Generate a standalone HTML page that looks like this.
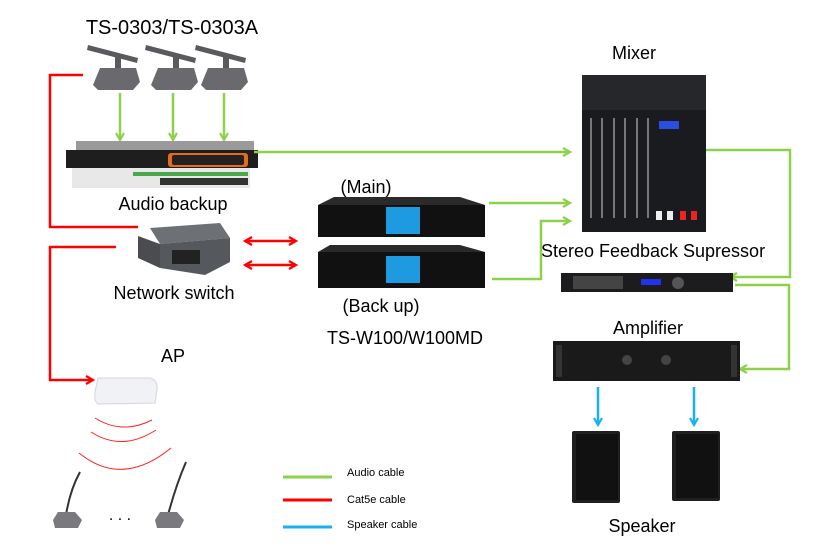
<!DOCTYPE html>
<html><head><meta charset="utf-8"><style>
html,body{margin:0;padding:0;background:#fff}
svg{display:block}
text{font-family:"Liberation Sans",Arial,sans-serif;fill:#000}
</style></head><body>
<svg width="827" height="544" viewBox="0 0 827 544" xmlns="http://www.w3.org/2000/svg">
<defs>
<marker id="ag" markerWidth="10" markerHeight="10" refX="8" refY="5" orient="auto" markerUnits="userSpaceOnUse"><path d="M1,1 L8,5 L1,9" fill="none" stroke="#8dd14a" stroke-width="2.2"/></marker>
<marker id="ar" markerWidth="10" markerHeight="10" refX="8" refY="5" orient="auto-start-reverse" markerUnits="userSpaceOnUse"><path d="M1,1 L8,5 L1,9" fill="none" stroke="#f00" stroke-width="2.2"/></marker>
<marker id="ab" markerWidth="10" markerHeight="10" refX="8" refY="5" orient="auto" markerUnits="userSpaceOnUse"><path d="M1,1 L8,5 L1,9" fill="none" stroke="#1ab0ef" stroke-width="2.2"/></marker>
</defs>

<text x="172" y="34" font-size="20" text-anchor="middle">TS-0303/TS-0303A</text>
<text x="173" y="210" font-size="18" text-anchor="middle">Audio backup</text>
<text x="174" y="299" font-size="18" text-anchor="middle">Network switch</text>
<text x="366" y="193" font-size="18" text-anchor="middle">(Main)</text>
<text x="381" y="312" font-size="18" text-anchor="middle">(Back up)</text>
<text x="405" y="344" font-size="18" text-anchor="middle">TS-W100/W100MD</text>
<text x="634" y="59" font-size="18" text-anchor="middle">Mixer</text>
<text x="653" y="257" font-size="18" text-anchor="middle">Stereo Feedback Supressor</text>
<text x="648" y="334" font-size="18" text-anchor="middle">Amplifier</text>
<text x="642" y="532" font-size="18" text-anchor="middle">Speaker</text>
<text x="173" y="362" font-size="18" text-anchor="middle">AP</text>
<text x="347" y="476" font-size="11">Audio cable</text>
<text x="347" y="503" font-size="11">Cat5e cable</text>
<text x="347" y="528" font-size="11">Speaker cable</text>
<line x1="283" y1="477" x2="332" y2="477" stroke="#8dd14a" stroke-width="3"/>
<line x1="283" y1="500" x2="332" y2="500" stroke="#f00" stroke-width="3"/>
<line x1="283" y1="527" x2="332" y2="527" stroke="#1ab0ef" stroke-width="3"/>

<g fill="#5a5a5e">
<g><path d="M88,45 L138,58 L137,63 L87,50Z"/><rect x="115" y="55" width="6" height="14"/><path d="M93,85 L100,68 L136,68 L140,82 L133,90 L98,90Z" fill="#6a6a6e"/></g>
<g transform="translate(58,0)"><path d="M88,45 L138,58 L137,63 L87,50Z"/><rect x="115" y="55" width="6" height="14"/><path d="M93,85 L100,68 L136,68 L140,82 L133,90 L98,90Z" fill="#6a6a6e"/></g>
<g transform="translate(108,0)"><path d="M88,45 L138,58 L137,63 L87,50Z"/><rect x="115" y="55" width="6" height="14"/><path d="M93,85 L100,68 L136,68 L140,82 L133,90 L98,90Z" fill="#6a6a6e"/></g>
</g>
<g stroke="#8dd14a" stroke-width="2.5" fill="none">
<line x1="120" y1="93" x2="120" y2="140" marker-end="url(#ag)"/>
<line x1="173" y1="93" x2="173" y2="140" marker-end="url(#ag)"/>
<line x1="224" y1="93" x2="224" y2="140" marker-end="url(#ag)"/>
</g>

<rect x="76" y="141" width="178" height="10" fill="#9a9a9a"/>
<rect x="66" y="150" width="192" height="18" fill="#1e1e1e"/>
<rect x="168" y="153" width="80" height="14" rx="3" fill="#e56a1a"/>
<rect x="172" y="155" width="72" height="10" rx="2" fill="#222"/>
<rect x="72" y="168" width="178" height="20" fill="#e8e8e8"/>
<g fill="#333"><rect x="160" y="178" width="88" height="7"/></g>
<g fill="#4aa84a"><rect x="133" y="172" width="115" height="4"/></g>

<g fill="none" stroke-width="2.5">
<line x1="254" y1="152" x2="570" y2="152" stroke="#8dd14a" marker-end="url(#ag)"/>
<polyline points="83,75 50,75 50,227 138,227" stroke="#f00"/>
<polyline points="116,247 50,247 50,380 93,380" stroke="#f00" marker-end="url(#ar)"/>
<line x1="245" y1="241" x2="296" y2="241" stroke="#f00" marker-end="url(#ar)" marker-start="url(#ar)"/>
<line x1="245" y1="265" x2="296" y2="265" stroke="#f00" marker-end="url(#ar)" marker-start="url(#ar)"/>
<line x1="489" y1="203" x2="570" y2="203" stroke="#8dd14a" marker-end="url(#ag)"/>
<polyline points="492,279 541,279 541,221 570,221" stroke="#8dd14a" marker-end="url(#ag)"/>
<polyline points="703,150 790,150 790,277 730,277" stroke="#8dd14a" marker-end="url(#ag)"/>
<polyline points="735,285 789,285 789,369 740,369" stroke="#8dd14a" marker-end="url(#ag)"/>
<line x1="598" y1="387" x2="598" y2="425" stroke="#1ab0ef" marker-end="url(#ab)"/>
<line x1="694" y1="387" x2="694" y2="425" stroke="#1ab0ef" marker-end="url(#ab)"/>
</g>

<path d="M150,228 L220,223 L230,238 L160,244Z" fill="#6d7075"/>
<path d="M138,236 L160,244 L160,268 L138,258Z" fill="#4a4c50"/>
<path d="M160,244 L230,238 L230,262 L205,275 L160,268Z" fill="#55585d"/>
<rect x="172" y="250" width="28" height="14" fill="#222"/>

<g>
<path d="M334,197 L460,197 L485,205 L318,205Z" fill="#2a2a2a"/>
<rect x="318" y="205" width="167" height="32" fill="#111"/>
<rect x="386" y="207" width="34" height="27" fill="#1e9be0"/>
<path d="M330,245 L460,245 L485,252 L318,252Z" fill="#2a2a2a"/>
<rect x="318" y="252" width="167" height="36" fill="#111"/>
<rect x="386" y="256" width="34" height="27" fill="#1e9be0"/>
</g>

<rect x="582" y="75" width="124" height="157" fill="#1a1b1e"/>
<rect x="582" y="75" width="124" height="35" fill="#26272b"/>
<rect x="659" y="121" width="20" height="8" fill="#2a4ee0"/>
<g fill="#777">
<rect x="590" y="118" width="2" height="100"/><rect x="601" y="118" width="2" height="100"/><rect x="613" y="118" width="2" height="100"/><rect x="624" y="118" width="2" height="100"/><rect x="636" y="118" width="2" height="100"/><rect x="647" y="118" width="2" height="100"/>
</g>
<rect x="656" y="211" width="6" height="9" fill="#eee"/><rect x="667" y="211" width="6" height="9" fill="#eee"/>
<rect x="680" y="211" width="6" height="9" fill="#e22"/><rect x="691" y="211" width="6" height="9" fill="#e22"/>

<rect x="561" y="273" width="172" height="19" fill="#1c1c1e"/>
<rect x="573" y="276" width="50" height="13" fill="#444"/>
<rect x="641" y="279" width="20" height="6" fill="#2233ee"/>
<circle cx="678" cy="283" r="6" fill="#555"/>

<rect x="553" y="341" width="187" height="40" fill="#1a1a1b"/>
<rect x="556" y="345" width="6" height="32" fill="#333"/><rect x="731" y="345" width="6" height="32" fill="#333"/>
<circle cx="627" cy="360" r="5" fill="#444"/><circle cx="666" cy="360" r="5" fill="#444"/>

<rect x="572" y="431" width="48" height="72" rx="2" fill="#1f1f21"/>
<rect x="576" y="434" width="42" height="66" fill="#111"/>
<rect x="672" y="431" width="48" height="70" rx="2" fill="#1f1f21"/>
<rect x="676" y="434" width="42" height="64" fill="#111"/>

<path d="M98,378 L150,378 Q158,380 157,390 L155,403 L98,404 Q94,402 95,392Z" fill="#f1f2f6" stroke="#d4d6de"/>
<g fill="none" stroke="#f22" stroke-width="1">
<path d="M95,418 Q122,435 152,420"/>
<path d="M91,432 Q122,452 156,430"/>
<path d="M79,453 Q122,488 171,448"/>
</g>

<g>
<path d="M80,472 Q70,490 66,515" stroke="#333" stroke-width="2" fill="none"/>
<path d="M53,520 L58,512 L75,512 L82,520 L78,528 L55,528Z" fill="#7a7a7e"/>
<path d="M186,462 Q176,485 168,515" stroke="#333" stroke-width="2" fill="none"/>
<path d="M155,520 L160,512 L177,512 L184,520 L180,528 L157,528Z" fill="#7a7a7e"/>
<text x="120" y="520" font-size="16" text-anchor="middle">. . .</text>
</g>
</svg>
</body></html>
